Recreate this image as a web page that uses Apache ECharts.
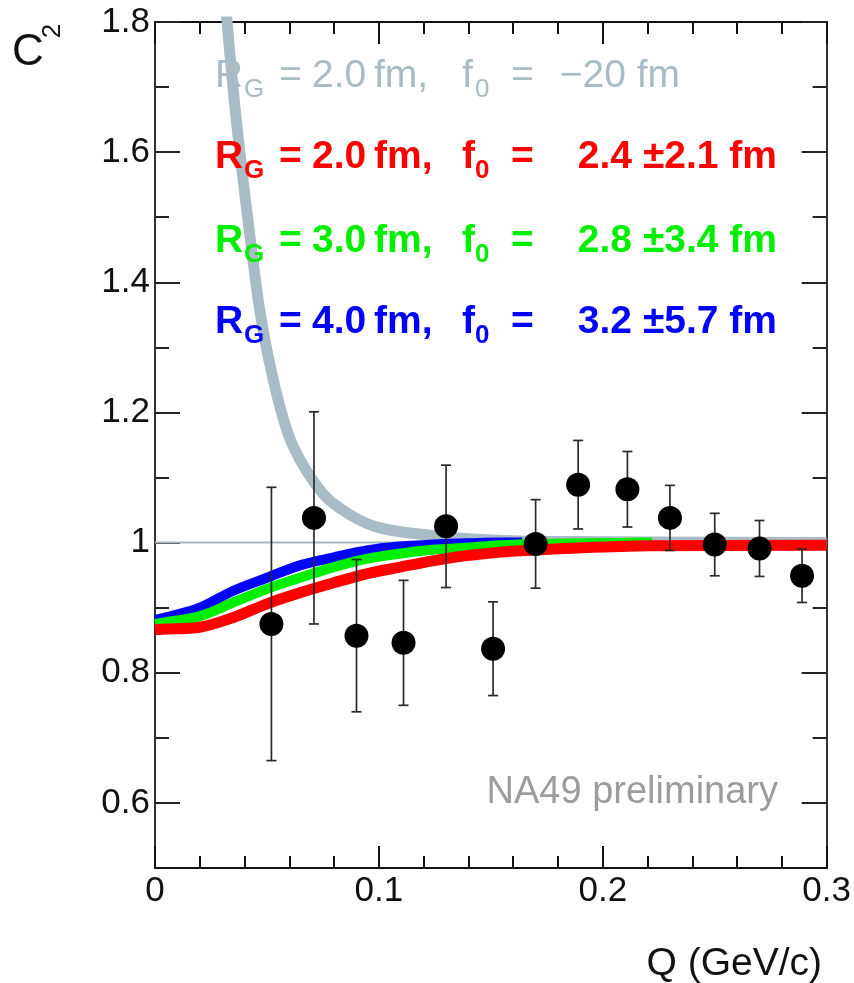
<!DOCTYPE html>
<html>
<head>
<meta charset="utf-8">
<script src="https://cdn.jsdelivr.net/npm/echarts@6/dist/echarts.min.js"></script>
<style>
  html, body { margin: 0; padding: 0; background: #fff; }
  #chart { width: 854px; height: 983px; }
</style>
</head>
<body>
<div id="chart"></div>
<script>
// Measured correlation C2 versus relative momentum Q
const qBins    = [0.052, 0.071, 0.090, 0.111, 0.130, 0.151, 0.170, 0.189, 0.211, 0.230, 0.250, 0.270, 0.289];
const c2Values = [0.875, 1.038, 0.857, 0.846, 1.025, 0.837, 0.998, 1.089, 1.082, 1.038, 0.997, 0.991, 0.949];
const c2Errors = [0.210, 0.163, 0.117, 0.096, 0.094, 0.072, 0.068, 0.068, 0.058, 0.050, 0.048, 0.043, 0.041];

// Model curves (Gaussian source radius R_G, scattering length f0)
const fitQR2  = [0, 0.0036, 0.020, 0.035, 0.050, 0.0647, 0.0795, 0.0945, 0.109, 0.124, 0.139, 0.153, 0.1616, 0.191, 0.221, 0.300];
const fitR2   = [0.866, 0.867, 0.870, 0.885, 0.906, 0.923, 0.938, 0.952, 0.962, 0.972, 0.980, 0.985, 0.987, 0.992, 0.995, 0.996];
const fitQR3  = [0, 0.0036, 0.020, 0.035, 0.050, 0.0647, 0.0795, 0.0945, 0.109, 0.124, 0.139, 0.153, 0.1616, 0.191, 0.222];
const fitR3   = [0.875, 0.877, 0.887, 0.908, 0.929, 0.946, 0.962, 0.975, 0.983, 0.989, 0.992, 0.996, 0.997, 0.999, 1.000];
const fitQR4  = [0, 0.0036, 0.020, 0.035, 0.050, 0.0647, 0.0795, 0.0945, 0.109, 0.124, 0.139, 0.153, 0.164];
const fitR4   = [0.881, 0.884, 0.900, 0.926, 0.946, 0.965, 0.977, 0.988, 0.994, 0.997, 0.999, 1.000, 1.000];

const repQ    = [0.0300, 0.0322, 0.0348, 0.0379, 0.0432, 0.0476, 0.0543, 0.0617, 0.075, 0.087, 0.100, 0.121, 0.140, 0.170, 0.300];
const repC2   = [1.890, 1.800, 1.700, 1.600, 1.449, 1.340, 1.229, 1.148, 1.075, 1.043, 1.023, 1.012, 1.006, 1.002, 1.000];

// Axis ticks
const xTicks      = [0, 0.1, 0.2, 0.3];
const yTicks      = [0.6, 0.8, 1.0, 1.2, 1.4, 1.6, 1.8];
const yMinorTicks = [0.7, 0.9, 1.1, 1.3, 1.5, 1.7];

// Fit annotations
const fitRadius = ['2.0', '2.0', '3.0', '4.0'];
const fitF0     = ['\u221220', '2.4', '2.8', '3.2'];
const fitF0Err  = ['', '2.1', '3.4', '5.7'];

const GRAY = '#a9bbc5', RED = '#ff0000', GREEN = '#00ee00', BLUE = '#0000ff';
const FONT = '"Liberation Sans", Arial, Helvetica, sans-serif';
const lineColors = [GRAY, RED, GREEN, BLUE];
const lineY = [76, 157, 241, 322];

const pairs = (xs, ys) => xs.map((x, i) => [x, ys[i]]);
const fmt = v => String(+v.toFixed(1));

const chart = echarts.init(document.getElementById('chart'), null, { renderer: 'canvas' });

function axisX(pos, showLabels) {
  return {
    type: 'value', position: pos, min: 0, max: 0.3, interval: 0.1,
    axisLine: { show: true, onZero: false, lineStyle: { color: '#111', width: 2 } },
    axisTick: { show: true, inside: true, length: 22, lineStyle: { color: '#111', width: 2 } },
    minorTick: { show: true, splitNumber: 5, length: 12, lineStyle: { color: '#111', width: 2 } },
    axisLabel: {
      show: showLabels, customValues: xTicks, formatter: fmt, margin: 6,
      fontSize: 35, fontFamily: FONT, color: '#111'
    },
    splitLine: { show: false }
  };
}
function axisY(pos, ticks, len, showLabels) {
  return {
    type: 'value', position: pos, min: 0.5, max: 1.8,
    axisLine: { show: true, onZero: false, lineStyle: { color: '#333', width: 2 } },
    axisTick: { show: true, inside: true, length: len, customValues: ticks, lineStyle: { color: '#222', width: 2 } },
    axisLabel: {
      show: showLabels, customValues: ticks, formatter: fmt, margin: 5,
      fontSize: 35, fontFamily: FONT, color: '#111'
    },
    splitLine: { show: false }
  };
}

// Annotation text pieces
const graphics = [];
function addText(t, x, y, size, color, weight, align) {
  graphics.push({
    type: 'text', x: x, y: y, z: 50,
    style: {
      text: t, fill: color, fontSize: size, fontFamily: FONT, fontWeight: weight,
      align: align || 'left', verticalAlign: 'middle',
      textAlign: align || 'left', textVerticalAlign: 'middle'
    }
  });
}
fitRadius.forEach((r, i) => {
  const c = lineColors[i], y = lineY[i];
  const w = i === 0 ? 'normal' : 'bold';
  const big = 39, small = 26, drop = 14;
  const put = (t, x, sub, align) => addText(t, x, y + (sub ? drop : 0), sub ? small : big, c, w, align);
  put('R', 215);
  put('G', 244, true);
  put('=', 279);
  put(r, 312);
  put('fm,', 374);
  put('f', 462);
  put('0', 475, true);
  put('=', 511);
  if (fitF0Err[i]) {
    put(fitF0[i] + ' \u00b1' + fitF0Err[i] + ' fm', 777, false, 'right');
  } else {
    put(fitF0[i] + ' fm', 680, false, 'right');
  }
});
addText('NA49 preliminary', 778, 793, 38, '#9c9c9c', 'normal', 'right');
addText('Q (GeV/c)', 822, 964, 39, '#111', 'normal', 'right');
addText('C', 12, 53, 44, '#111', 'normal');
graphics.push({
  type: 'text', x: 53, y: 31, rotation: Math.PI / 2, z: 50,
  style: { text: '2', fill: '#111', fontSize: 26, fontFamily: FONT, align: 'center', verticalAlign: 'middle',
           textAlign: 'center', textVerticalAlign: 'middle' }
});

const errStyle = { stroke: '#2a2a2a', lineWidth: 1.7 };

chart.setOption({
  animation: false,
  backgroundColor: '#fff',
  grid: { left: 155, right: 27, top: 22, bottom: 115, containLabel: false },
  xAxis: [axisX('bottom', true), axisX('top', false)],
  yAxis: [
    axisY('left', yTicks, 25, true),
    axisY('left', yMinorTicks, 14, false),
    axisY('right', yTicks, 25, false),
    axisY('right', yMinorTicks, 14, false)
  ],
  series: [
    {
      type: 'line', name: 'f0 = -20 fm', data: pairs(repQ, repC2), smooth: 0.35,
      showSymbol: false, clip: true, z: 2,
      lineStyle: { color: GRAY, width: 11 }
    },
    {
      type: 'line', name: 'unity', data: [[0, 1], [0.3, 1]], showSymbol: false, z: 3,
      lineStyle: { color: '#a3b7c1', width: 2 }
    },
    {
      type: 'line', name: 'R_G = 4.0 fm', data: pairs(fitQR4, fitR4), smooth: 0.35,
      showSymbol: false, z: 4, lineStyle: { color: BLUE, width: 10 }
    },
    {
      type: 'line', name: 'R_G = 3.0 fm', data: pairs(fitQR3, fitR3), smooth: 0.35,
      showSymbol: false, z: 5, lineStyle: { color: GREEN, width: 10 }
    },
    {
      type: 'line', name: 'R_G = 2.0 fm', data: pairs(fitQR2, fitR2), smooth: 0.35,
      showSymbol: false, z: 6, lineStyle: { color: RED, width: 11 }
    },
    {
      type: 'custom', name: 'errors', z: 7,
      data: qBins.map((q, i) => [q, c2Values[i], c2Errors[i]]),
      encode: { x: 0, y: 1 },
      renderItem: function (params, api) {
        const x = api.value(0), y = api.value(1), e = api.value(2);
        const top = api.coord([x, y + e]);
        const bot = api.coord([x, y - e]);
        const h = 5;
        return {
          type: 'group',
          children: [
            { type: 'line', shape: { x1: top[0], y1: top[1], x2: bot[0], y2: bot[1] }, style: errStyle },
            { type: 'line', shape: { x1: top[0] - h, y1: top[1], x2: top[0] + h, y2: top[1] }, style: errStyle },
            { type: 'line', shape: { x1: bot[0] - h, y1: bot[1], x2: bot[0] + h, y2: bot[1] }, style: errStyle }
          ]
        };
      }
    },
    {
      type: 'scatter', name: 'NA49', z: 8,
      data: pairs(qBins, c2Values),
      symbol: 'circle', symbolSize: 24,
      itemStyle: { color: '#000', opacity: 1 }
    }
  ],
  graphic: graphics
});
</script>
</body>
</html>
